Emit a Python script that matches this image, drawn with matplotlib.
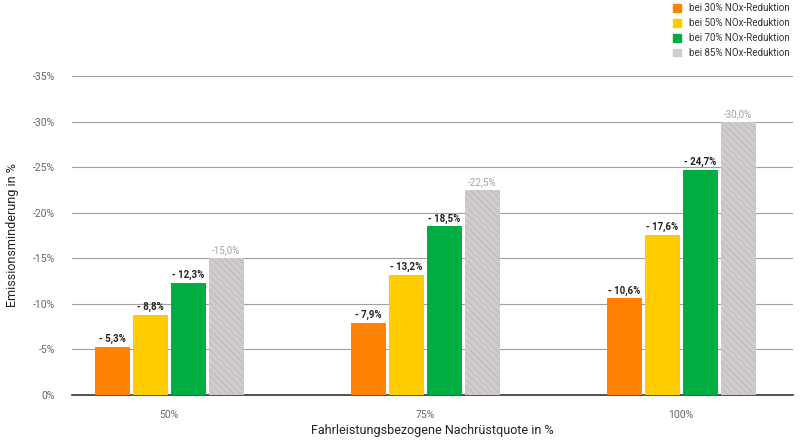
import numpy as np
import matplotlib

matplotlib.use("Agg")
import matplotlib.pyplot as plt
from matplotlib.patches import Patch

plt.rcParams["font.family"] = ["Roboto", "DejaVu Sans"]
plt.rcParams["hatch.linewidth"] = 0.6

# --------------------------------------------------------------------------- #
# data (Emissionsminderung in %, shown as negative on the axis)
# --------------------------------------------------------------------------- #
quoten = ["50%", "75%", "100%"]
series = ["bei 30% NOx-Reduktion", "bei 50% NOx-Reduktion",
          "bei 70% NOx-Reduktion", "bei 85% NOx-Reduktion"]
red_30 = [5.3, 7.9, 10.6]
red_50 = [8.8, 13.2, 17.6]
red_70 = [12.3, 18.5, 24.7]
red_85 = [15.0, 22.5, 30.0]
yticks = [0, 5, 10, 15, 20, 25, 30, 35]

ORANGE, YELLOW, GREEN, GREY = "#FF8200", "#FFCC00", "#00AD43", "#D0CCCC"
colors = [ORANGE, YELLOW, GREEN, GREY]
values = [red_30, red_50, red_70, red_85]

fig = plt.figure(figsize=(8, 4.42), dpi=100)
ax = fig.add_axes([0.09, 0.1063, 0.901, 0.7217])

x = np.arange(len(quoten))
w, step = 0.137, 0.1485
for k, (vals, c) in enumerate(zip(values, colors)):
    xs = x + (k - 1.5) * step
    if c == GREY:
        ax.bar(xs, vals, w, color=c, edgecolor="#BBB6B6", hatch="\\\\\\\\\\", lw=0, zorder=3)
    else:
        ax.bar(xs, vals, w, color=c, lw=0, zorder=3)
    for xi, v in zip(xs, vals):
        if c == GREY:
            ax.text(xi, v + 0.3, f"-{v:.1f}%".replace(".", ","), ha="center", va="bottom",
                    fontsize=7, color="#a0a0a0")
        else:
            ax.text(xi, v + 0.3, f"- {v:.1f}%".replace(".", ","), ha="center", va="bottom",
                    fontsize=7, color="#222222", fontweight="bold")

ax.set_xlim(-0.38, 2.436)
ax.set_ylim(0, 35)
ax.set_yticks(yticks)
ax.set_yticklabels([f"-{t}%" if t else "0%" for t in yticks])
ax.set_xticks(x)
ax.set_xticklabels(quoten)
ax.tick_params(axis="both", length=0, labelsize=7.5, labelcolor="#666666")
ax.tick_params(axis="y", pad=12)
ax.tick_params(axis="x", pad=11)
ax.grid(axis="y", color="#a0a0a0", lw=0.8, zorder=0)
for s in ("top", "right", "left"):
    ax.spines[s].set_visible(False)
ax.spines["bottom"].set_color("#333333")
ax.spines["bottom"].set_linewidth(1.2)

ax.set_ylabel("Emissionsminderung in %", fontsize=9, color="#222222", labelpad=10)
ax.set_xlabel("Fahrleistungsbezogene Nachrüstquote in %", fontsize=9, color="#222222",
              labelpad=3)

handles = [Patch(color=c, label=s) for c, s in zip(colors, series)]
fig.legend(handles=handles, loc="upper right", bbox_to_anchor=(0.998, 1.012),
           frameon=False, fontsize=7, handlelength=0.8, handleheight=0.8,
           handletextpad=0.8, labelspacing=0.5, labelcolor="#333333")

fig.savefig("out.png", dpi=100)
